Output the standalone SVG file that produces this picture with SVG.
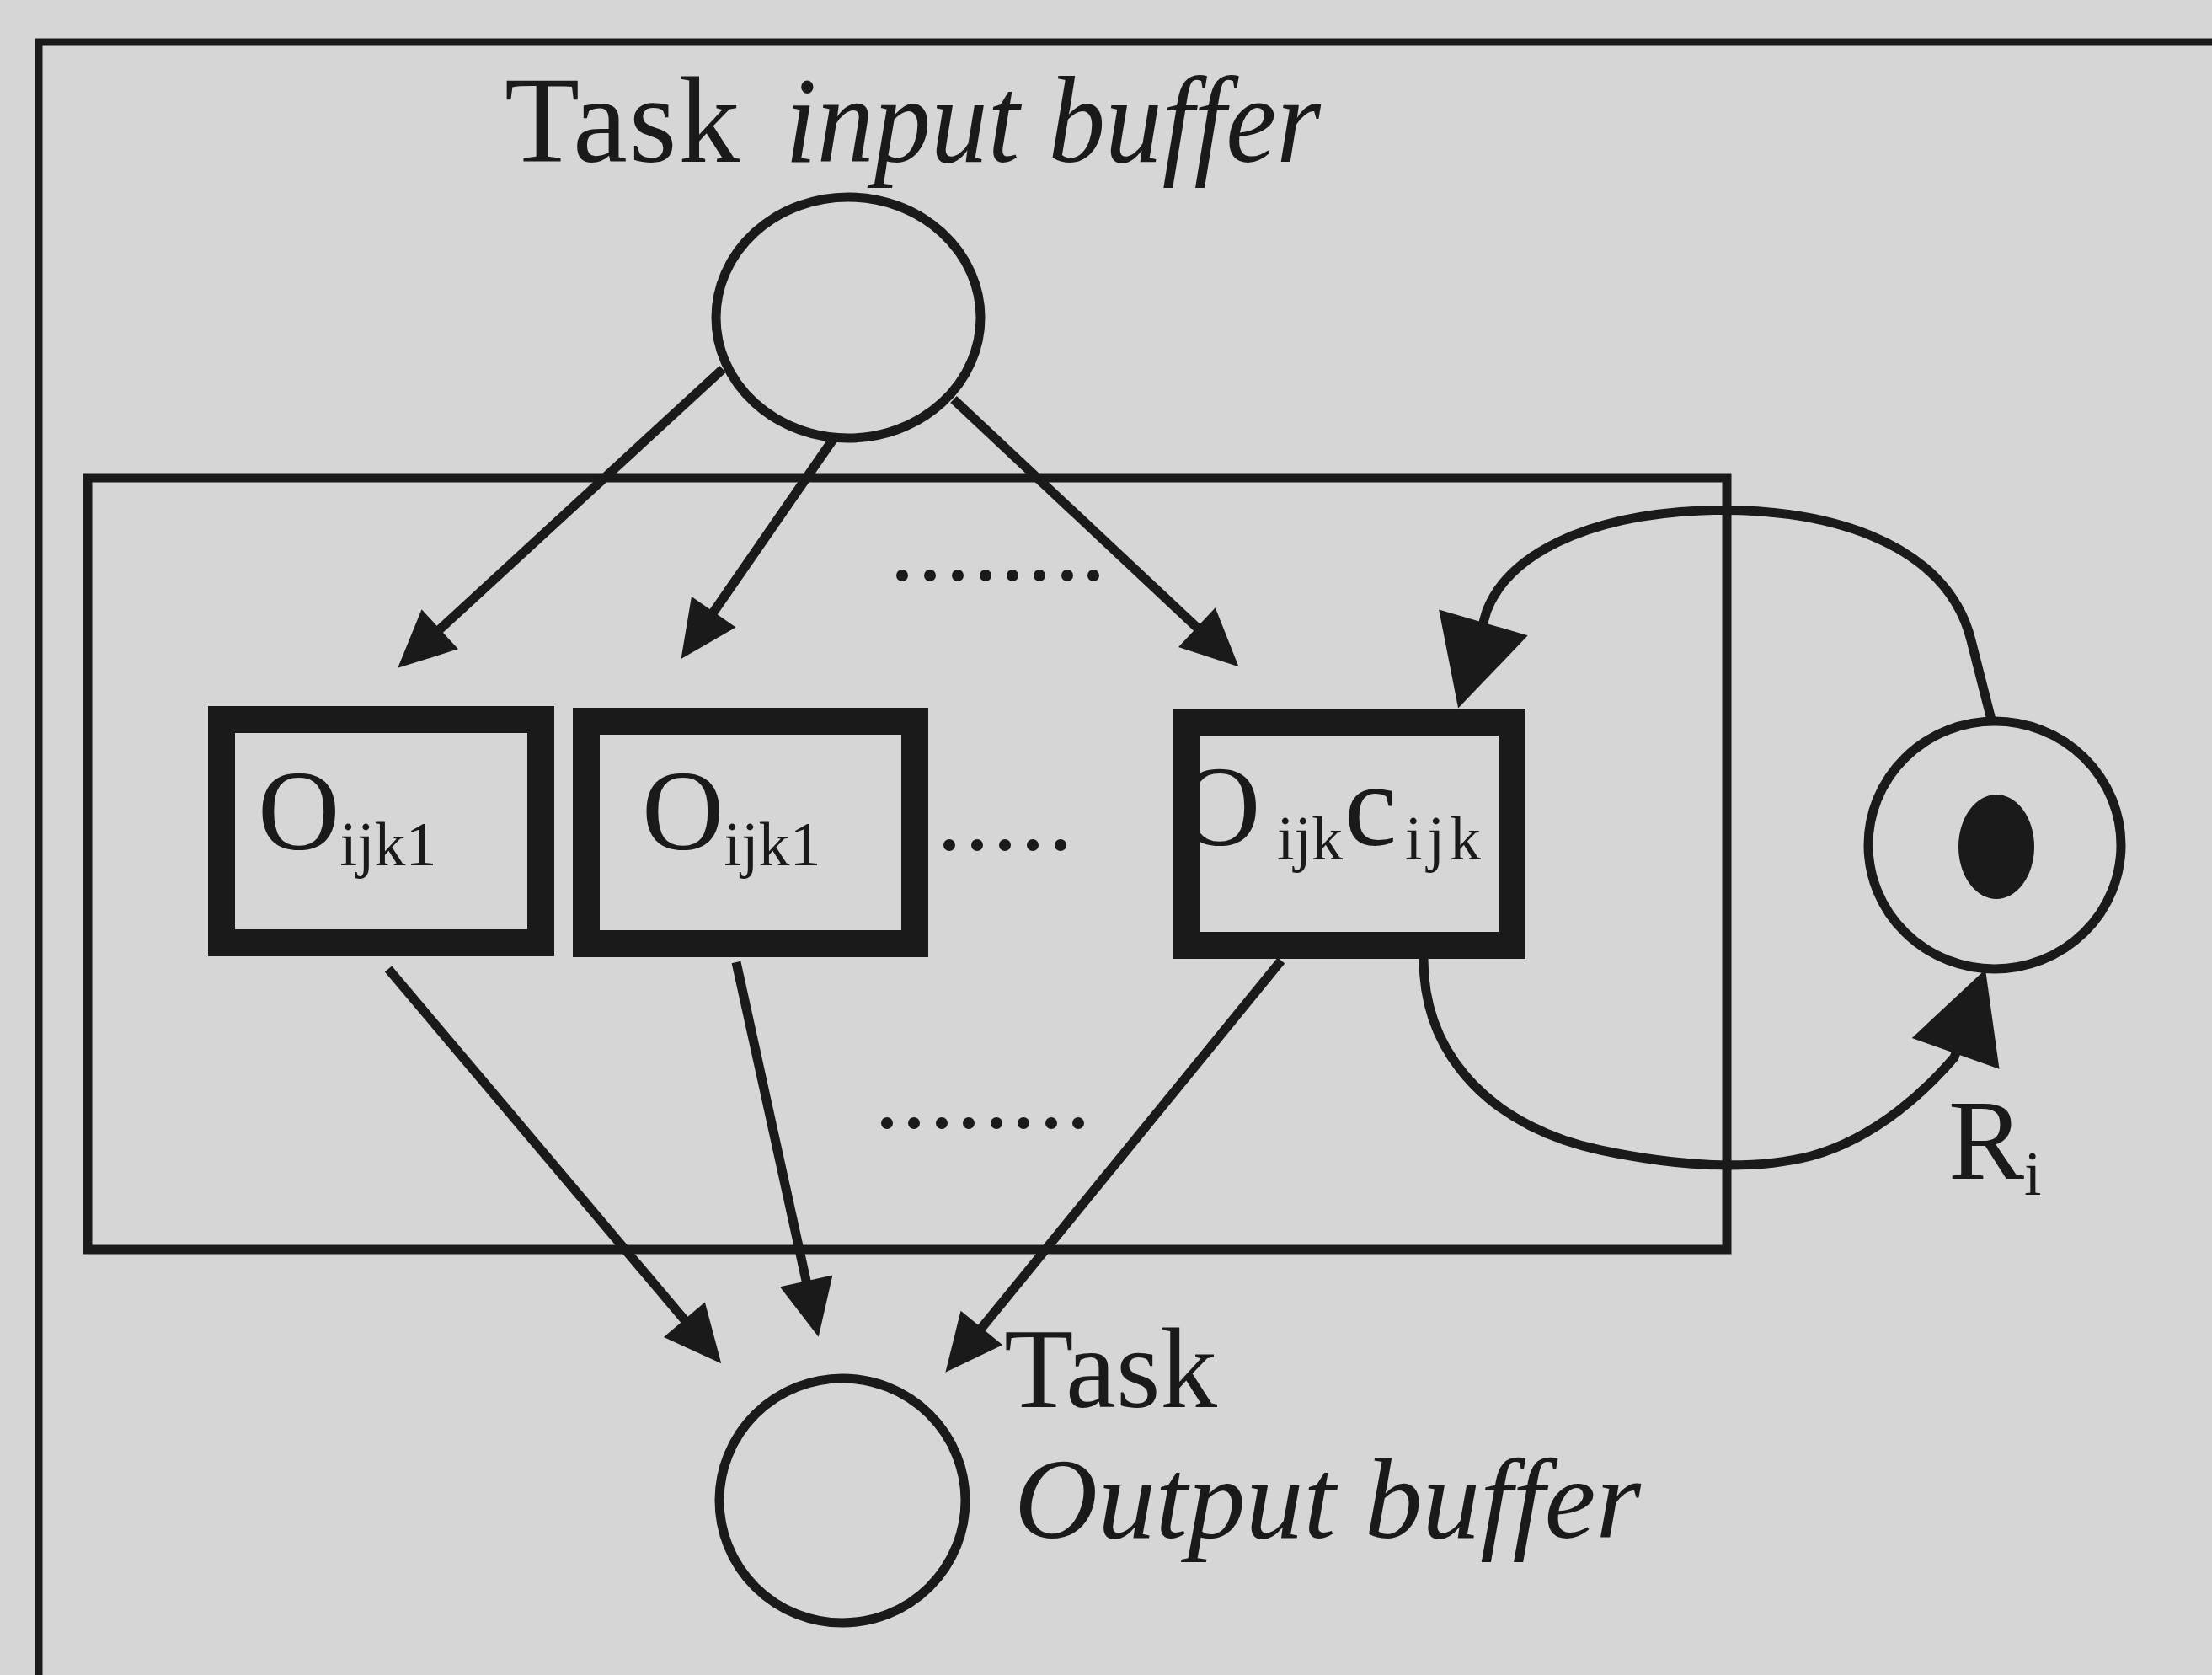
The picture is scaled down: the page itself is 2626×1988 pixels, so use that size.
<svg xmlns="http://www.w3.org/2000/svg" width="2626" height="1988" viewBox="0 0 2626 1988">
  <style>
    .ln { fill: none; stroke: #1a1a1a; stroke-width: 11; }
    .thin { fill: none; stroke: #1a1a1a; stroke-width: 9; }
    .op { fill: none; stroke: #1a1a1a; stroke-width: 32; }
    .tx { font-family: "Liberation Serif", "Times New Roman", serif; fill: #1a1a1a; }
    .it { font-style: italic; }
    .dot { fill: #1a1a1a; }
  </style>
  <defs>
    <!-- arrowheads: tip sits beyond the end of the line so the stroke end stays hidden -->
    <marker id="head" markerUnits="userSpaceOnUse" markerWidth="70" markerHeight="66" refX="18" refY="32" orient="auto" overflow="visible">
      <path d="M0,0 L68,32 L0,64 z" fill="#1a1a1a"/>
    </marker>
    <marker id="bighead" markerUnits="userSpaceOnUse" markerWidth="110" markerHeight="112" refX="46" refY="55" orient="auto" overflow="visible">
      <path d="M0,0 L106,55 L0,110 z" fill="#1a1a1a"/>
    </marker>
  </defs>

  <!-- paper -->
  <rect x="0" y="0" width="2626" height="1988" fill="#d6d6d6"/>

  <!-- outer frame, running off the right and bottom edges -->
  <rect id="frame" x="46" y="50" width="2700" height="2100" class="thin"/>

  <!-- resource container -->
  <rect id="container" x="104" y="567" width="1946" height="916" class="ln"/>

  <!-- task input buffer -->
  <g id="input-buffer">
    <ellipse cx="1007" cy="377" rx="157" ry="143" class="ln"/>
    <text class="tx" x="599" y="192" font-size="146" letter-spacing="2">Task</text>
    <text class="tx it" x="932" y="192" font-size="146" textLength="636" lengthAdjust="spacingAndGlyphs">input buffer</text>
  </g>

  <!-- operation 1 -->
  <g id="op1">
    <text class="tx" x="306" y="1008" font-size="135">O<tspan font-size="74" dy="19">ijk1</tspan></text>
    <rect x="263" y="854" width="379" height="265" class="op"/>
  </g>

  <!-- operation 2 -->
  <g id="op2">
    <text class="tx" x="762" y="1008" font-size="135">O<tspan font-size="74" dy="19">ijk1</tspan></text>
    <rect x="696" y="856" width="390" height="264" class="op"/>
  </g>

  <!-- operation c -->
  <g id="op3">
    <text class="tx" x="1399" y="1003" font-size="135">O<tspan x="1516" font-size="74" dy="17">ijk</tspan><tspan x="1596" font-size="140" dy="-17">c</tspan><tspan x="1668" font-size="74" dy="17" letter-spacing="6">ijk</tspan></text>
    <rect x="1408" y="857" width="387" height="265" class="op"/>
  </g>

  <!-- resource place -->
  <g id="resource">
    <ellipse cx="2368" cy="1003" rx="150" ry="147" class="ln" stroke-width="12"/>
    <ellipse cx="2370" cy="1005" rx="45" ry="62" fill="#1a1a1a"/>
    <text class="tx" x="2313" y="1399" font-size="135">R<tspan font-size="74" dy="19">i</tspan></text>
  </g>

  <!-- task output buffer -->
  <g id="output-buffer">
    <ellipse cx="1000" cy="1781" rx="146" ry="145" class="ln"/>
    <text class="tx" x="1192" y="1670" font-size="135">Task</text>
    <text class="tx it" x="1204" y="1825" font-size="135" textLength="744" lengthAdjust="spacingAndGlyphs">Output buffer</text>
  </g>

  <!-- ellipsis dots -->
  <g id="dots">
    <g class="dot">
      <circle cx="1071" cy="683" r="7"/><circle cx="1104" cy="683" r="7"/><circle cx="1137" cy="683" r="7"/><circle cx="1170" cy="683" r="7"/>
      <circle cx="1202" cy="683" r="7"/><circle cx="1234" cy="683" r="7"/><circle cx="1267" cy="683" r="7"/><circle cx="1298" cy="683" r="7"/>
    </g>
    <g class="dot">
      <circle cx="1127" cy="1003" r="7"/><circle cx="1160" cy="1003" r="7"/><circle cx="1193" cy="1003" r="7"/><circle cx="1226" cy="1003" r="7"/><circle cx="1259" cy="1003" r="7"/>
    </g>
    <g class="dot">
      <circle cx="1053" cy="1333" r="7"/><circle cx="1085" cy="1333" r="7"/><circle cx="1118" cy="1333" r="7"/><circle cx="1150" cy="1333" r="7"/>
      <circle cx="1183" cy="1333" r="7"/><circle cx="1215" cy="1333" r="7"/><circle cx="1248" cy="1333" r="7"/><circle cx="1280" cy="1333" r="7"/>
    </g>
  </g>

  <!-- arcs -->
  <g id="connectors">
    <line x1="858" y1="438" x2="509" y2="759" class="ln" marker-end="url(#head)"/>
    <line x1="990" y1="520" x2="837" y2="741" class="ln" marker-end="url(#head)"/>
    <line x1="1132" y1="474" x2="1434" y2="757" class="ln" marker-end="url(#head)"/>

    <line x1="461" y1="1150" x2="824" y2="1580" class="ln" marker-end="url(#head)"/>
    <line x1="874" y1="1142" x2="961" y2="1538" class="ln" marker-end="url(#head)"/>
    <line x1="1521" y1="1140" x2="1154" y2="1590" class="ln" marker-end="url(#head)"/>

    <path d="M2365,858 L2340,760 C2310,640 2160,600 2020,606 C1880,612 1790,660 1765,725 L1748,783" class="ln" stroke-width="12" marker-end="url(#bighead)"/>
    <path d="M1690,1138 C1690,1260 1780,1340 1900,1365 C1990,1384 2080,1390 2150,1372 C2230,1350 2290,1290 2320,1255 L2337,1207" class="ln" stroke-width="12" marker-end="url(#bighead)"/>
  </g>
</svg>
